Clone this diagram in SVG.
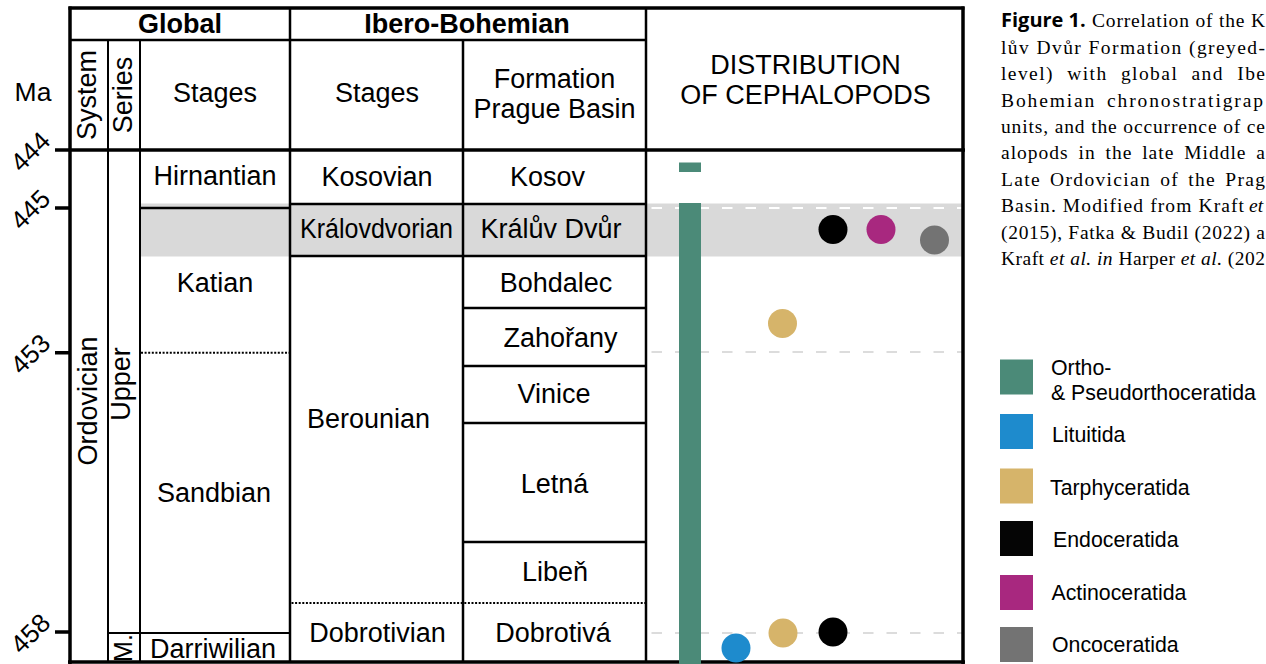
<svg xmlns="http://www.w3.org/2000/svg" width="1266" height="664" viewBox="0 0 1266 664">
<style>
.s{font-family:"Liberation Sans",Arial,Helvetica,sans-serif;font-size:27px;fill:#000;text-anchor:middle}
.bd{font-weight:bold}
.tk{font-family:"Liberation Sans",Arial,sans-serif;font-size:26px;fill:#000;text-anchor:end}
.lg{font-family:"Liberation Sans",Arial,sans-serif;font-size:21.3px;fill:#000}
.cp{font-family:"Liberation Serif","Times New Roman",serif;font-size:19.5px;fill:#000}
.fg{font-family:"Open Sans","Liberation Sans",sans-serif;font-size:20px;font-weight:700;fill:#000}
.it{font-style:italic}
.L3{stroke:#000;stroke-width:3.5;fill:none}
.L2{stroke:#000;stroke-width:2.5;fill:none}
.L1{stroke:#000;stroke-width:2;fill:none}
.dot{stroke:#000;stroke-width:2;stroke-dasharray:2 1.6;fill:none}
.dg{stroke:#dcdcdc;stroke-width:2;stroke-dasharray:10.5 13;fill:none}
.dw{stroke:#fff;stroke-width:2;stroke-dasharray:10.5 13;fill:none}
</style>
<rect width="1266" height="664" fill="#fff"/>

<g id="band">
<rect x="140" y="203.5" width="823" height="53" fill="#d9d9d9"/>
</g>

<g id="distribution-guides">
<path class="dw" d="M651.5 208 H962"/>
<path class="dg" d="M651.5 352 H962"/>
<path class="dg" d="M651.5 633 H962"/>
</g>

<g id="frame">
<path class="L3" d="M68.5 8 H964.5"/>
<path class="L3" d="M70 6.5 V664"/>
<path class="L3" d="M963 6.5 V664"/>
<path class="L3" d="M68 662 H965"/>
<path class="L3" d="M55 150 H965"/>
<path class="L2" d="M70 40 H646"/>
<path class="L2" d="M290 8 V662"/>
<path class="L2" d="M646 8 V662"/>
<path class="L1" d="M108 40 V662"/>
<path class="L1" d="M140 40 V662"/>
<path class="L2" d="M463 40 V662"/>
</g>

<g id="age-axis">
<text class="s" x="33" y="101" style="font-size:26.5px">Ma</text>
<path class="L3" d="M55 208 H70 M55 352.7 H70 M55 632 H70"/>
<text class="tk" transform="translate(52,142.5) rotate(-45)">444</text>
<text class="tk" transform="translate(52,200.5) rotate(-45)">445</text>
<text class="tk" transform="translate(52,345) rotate(-45)">453</text>
<text class="tk" transform="translate(52,624.5) rotate(-45)">458</text>
</g>

<g id="header">
<text class="s bd" x="180" y="33">Global</text>
<text class="s bd" x="467" y="33">Ibero-Bohemian</text>
<text class="s" transform="translate(96,95) rotate(-90)">System</text>
<text class="s" transform="translate(132,95) rotate(-90)">Series</text>
<text class="s" x="215" y="102">Stages</text>
<text class="s" x="377" y="102">Stages</text>
<text class="s" x="554.5" y="88">Formation</text>
<text class="s" x="554.5" y="118">Prague Basin</text>
<text class="s" x="805.5" y="74">DISTRIBUTION</text>
<text class="s" x="805.5" y="104">OF CEPHALOPODS</text>
</g>

<g id="global-column">
<text class="s" transform="translate(97,401) rotate(-90)">Ordovician</text>
<text class="s" transform="translate(130,384) rotate(-90)">Upper</text>
<text class="s" transform="translate(132,648) rotate(-90)" style="font-size:25px">M.</text>
<path class="L2" d="M140 208 H290"/>
<path class="dot" d="M141 352.7 H290"/>
<path class="L1" d="M108 633 H290"/>
<text class="s" x="215" y="185">Hirnantian</text>
<text class="s" x="215" y="292">Katian</text>
<text class="s" x="214" y="502">Sandbian</text>
<text class="s" x="213" y="658">Darriwilian</text>
</g>

<g id="ibero-column">
<path class="L2" d="M290 204 H646 M290 256 H646 M463 308 H646 M463 366 H646 M463 423 H646 M463 542 H646"/>
<path class="dot" d="M291.5 603 H645"/>
<text class="s" x="377" y="186">Kosovian</text>
<text class="s" x="376.5" y="238" textLength="153" lengthAdjust="spacingAndGlyphs">Královdvorian</text>
<text class="s" x="368.5" y="428">Berounian</text>
<text class="s" x="377.5" y="642">Dobrotivian</text>
<text class="s" x="547.5" y="186">Kosov</text>
<text class="s" x="551" y="238">Králův Dvůr</text>
<text class="s" x="556" y="292">Bohdalec</text>
<text class="s" x="560.5" y="347">Zahořany</text>
<text class="s" x="554" y="403">Vinice</text>
<text class="s" x="554.5" y="493">Letná</text>
<text class="s" x="555" y="581">Libeň</text>
<text class="s" x="553" y="642">Dobrotivá</text>
</g>

<g id="cephalopods">
<rect x="679" y="162.5" width="22" height="9.5" fill="#4b8a78"/>
<rect x="679" y="203" width="22" height="461" fill="#4b8a78"/>
<circle cx="833" cy="229.5" r="14.5" fill="#000"/>
<circle cx="881" cy="229.5" r="14.5" fill="#a8287f"/>
<circle cx="934.5" cy="240" r="14.5" fill="#737373"/>
<circle cx="782.5" cy="323.5" r="14.5" fill="#d6b46a"/>
<circle cx="736" cy="648" r="14.5" fill="#1e8bcd"/>
<circle cx="783" cy="633" r="14.5" fill="#d6b46a"/>
<circle cx="833" cy="632" r="14.5" fill="#000"/>
</g>

<g id="legend">
<rect x="1000" y="359.5" width="33" height="35" fill="#4b8a78"/>
<rect x="1000" y="414" width="33" height="35" fill="#1e8bcd"/>
<rect x="1000" y="468.5" width="33" height="35" fill="#d6b46a"/>
<rect x="1000" y="521" width="33" height="35" fill="#050505"/>
<rect x="1000" y="575" width="33" height="35" fill="#a8287f"/>
<rect x="1000" y="627" width="33" height="35" fill="#737373"/>
<text class="lg" x="1051" y="375">Ortho-</text>
<text class="lg" x="1051" y="399.5">&amp; Pseudorthoceratida</text>
<text class="lg" x="1052" y="442">Lituitida</text>
<text class="lg" x="1050" y="495">Tarphyceratida</text>
<text class="lg" x="1053" y="547">Endoceratida</text>
<text class="lg" x="1051.5" y="600">Actinoceratida</text>
<text class="lg" x="1052" y="652">Oncoceratida</text>
</g>

<g id="caption">
<text class="fg" x="1001" y="27.3">Figure 1.</text>
<text class="cp" x="1092" y="27.3" textLength="173" lengthAdjust="spacing">Correlation of the K</text>
<text class="cp" x="1001" y="53.7" textLength="264" lengthAdjust="spacing">lův Dvůr Formation (greyed-</text>
<text class="cp" x="1001" y="80.1" textLength="264" lengthAdjust="spacing" word-spacing="7">level) with global and Ibe</text>
<text class="cp" x="1001" y="106.5" textLength="262" lengthAdjust="spacing" word-spacing="4">Bohemian chronostratigrap</text>
<text class="cp" x="1001" y="132.9" textLength="264" lengthAdjust="spacing">units, and the occurrence of ce</text>
<text class="cp" x="1001" y="159.3" textLength="264" lengthAdjust="spacing" word-spacing="4">alopods in the late Middle a</text>
<text class="cp" x="1001" y="185.7" textLength="264" lengthAdjust="spacing" word-spacing="3">Late Ordovician of the Prag</text>
<text class="cp" x="1001" y="212.1" textLength="243" lengthAdjust="spacing">Basin. Modified from Kraft</text>
<text class="cp it" x="1249" y="212.1">et</text>
<text class="cp" x="1001" y="238.5" textLength="264" lengthAdjust="spacing">(2015), Fatka &amp; Budil (2022) a</text>
<text class="cp" x="1001" y="264.9" textLength="264" lengthAdjust="spacing">Kraft <tspan class="it">et al. in</tspan> Harper <tspan class="it">et al.</tspan> (202</text>
</g>
</svg>
